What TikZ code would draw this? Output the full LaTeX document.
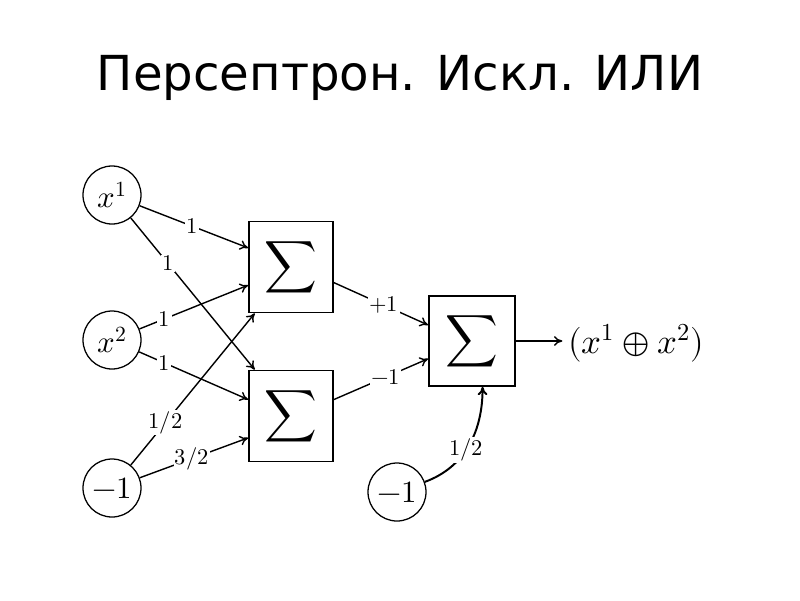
\documentclass[tikz,border=0pt]{standalone}
\usepackage{fontspec}
\setmainfont{DejaVu Sans}
\usepackage{unicode-math}
\setmathfont{Latin Modern Math}
\usetikzlibrary{calc,arrows.meta}

\tikzset{
  neuron/.style={draw, circle, line width=0.9pt, minimum size=1.45cm, inner sep=0pt, font=\fontsize{22}{24}\selectfont},
  sumbox/.style={draw, rectangle, line width=1.2pt, minimum width=2.1cm, minimum height=2.275cm, inner sep=0pt, font=\fontsize{26}{30}\selectfont},
  wire/.style={line width=1pt, -{To[length=6pt, width=7pt]}},
  wlabel/.style={fill=white, inner sep=1pt, font=\fontsize{16}{18}\selectfont}
}

\begin{document}
\begin{tikzpicture}
			%%%%% START %%%%%
			\useasboundingbox (0, 0) rectangle (20, -15);
			\node at (10, -1.95) {\fontsize{34.3}{40}\selectfont Персептрон. Искл. ИЛИ};
			
			\node[neuron] (x1) at (2.8, -4.875) {$x^1$};
			\node[neuron] (x2) at (2.8, -8.5) {$x^2$};
			\node[neuron] (m1) at (2.8, -12.2) {$-1$};
			
			\node[sumbox] (s1) at (7.275, -6.675) {$\displaystyle\sum$};
			\node[sumbox] (s2) at (7.275, -10.4) {$\displaystyle\sum$};
			\node[sumbox, minimum width=2.15cm, minimum height=2.25cm] (s3) at (11.8, -8.525) {$\displaystyle\sum$};
			
			\node[neuron] (m2) at (9.925, -12.3) {$-1$};
			\node[anchor=west, inner sep=0pt, font=\fontsize{24.8}{28}\selectfont] (out) at (14.2, -8.575) {$(x^1 \oplus x^2)$};
			
			\draw[wire] (x1) -- node[wlabel, pos=0.48] {$1$} (s1.156);
			\draw[wire] (x1) -- node[wlabel, pos=0.3] {$1$} (s2.128);
			\draw[wire] (x2) -- node[wlabel, pos=0.23] {$1$} (s1.203);
			\draw[wire] (x2) -- node[wlabel, pos=0.23] {$1$} (s2.159);
			\draw[wire] (m1) -- node[wlabel, pos=0.28] {$1/2$} (s1.232);
			\draw[wire] (m1) -- node[wlabel, pos=0.48] {$3/2$} (s2.207);
			
			\draw[wire] (s1.-20) -- node[wlabel, pos=0.53] {$+1$} (s3.160);
			\draw[wire] (s2.21) -- node[wlabel, pos=0.55] {$-1$} (s3.202);
			\draw[wire, line width=1.4pt] (m2.20) to[out=20, in=-90] node[wlabel, pos=0.45] {$1/2$} (s3.-77);
			
			\draw[wire, shorten >=4pt] (s3.east) -- (s3.east -| out.west);
			%%%%% END %%%%%
		\end{tikzpicture}
\end{document}
